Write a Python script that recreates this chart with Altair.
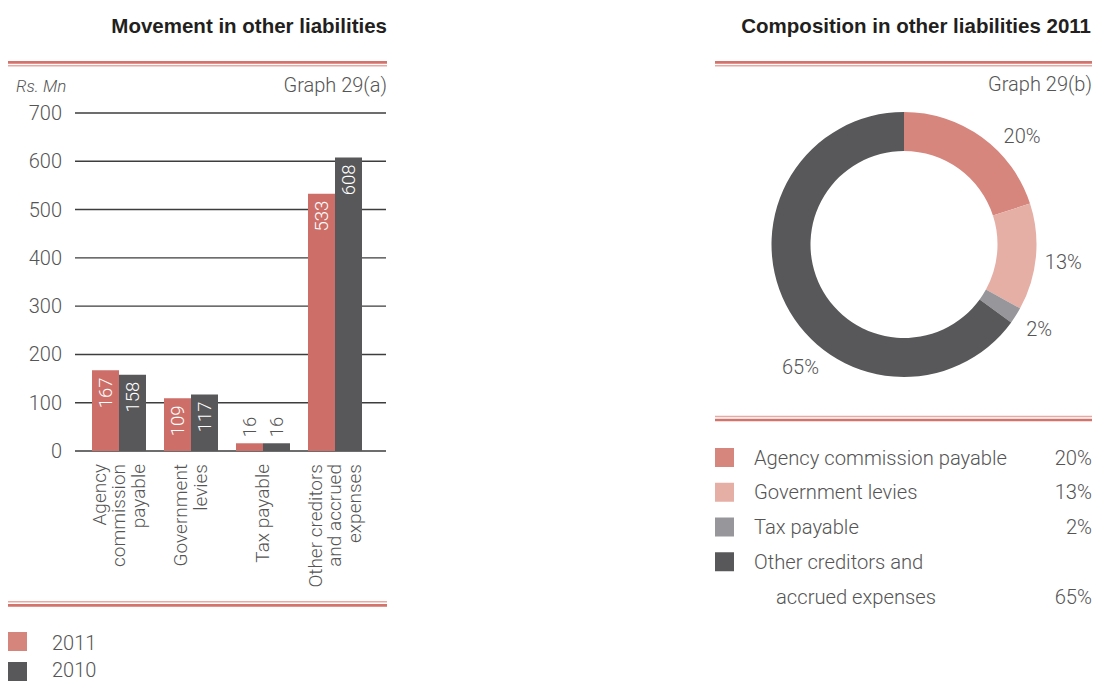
import math
import altair as alt
import pandas as pd

# ---- data -------------------------------------------------------------
categories = [
    "Agency commission payable",
    "Government levies",
    "Tax payable",
    "Other creditors and accrued expenses",
]
axis_lines = [
    "Agency|commission|payable",
    "Government|levies",
    "Tax payable",
    "Other creditors|and accrued|expenses",
]
years = ["2011", "2010"]
values_2011 = [167, 109, 16, 533]
values_2010 = [158, 117, 16, 608]
y_ticks = [0, 100, 200, 300, 400, 500, 600, 700]

pie_labels = categories
pie_share = [20, 13, 2, 65]
legend_text = [
    ["Agency commission payable"],
    ["Government levies"],
    ["Tax payable"],
    ["Other creditors and", "accrued expenses"],
]

# ---- styling ----------------------------------------------------------
FONT = "Roboto"
FW = 300
TITLE_FONT = "Liberation Sans"
TXT = "#555555"
DARK = "#231f20"
BAR_COLORS = ["#cd6f68", "#58585a"]
KEY_COLORS = ["#d6857c", "#58585a"]
PIE_COLORS = ["#d6867c", "#e5afa6", "#97979b", "#58585a"]
RULE_DARK = "#d3736b"
RULE_LIGHT = "#e9a8a1"

W, H = 1094, 683
CX, CY = 904, 244.5          # donut centre
R_OUT, R_IN, R_LBL = 132.5, 93.5, 160
# nudges for the percentage labels around the ring
NUDGE = [(24, 22), (0, 3), (0, 0), (39, 51)]
LINE_H = 19.5

bars_df = pd.DataFrame({
    "category": categories * 2,
    "year": [years[0]] * 4 + [years[1]] * 4,
    "value": values_2011 + values_2010,
})
axis_df = pd.DataFrame({"category": categories, "lines": axis_lines})
ticks_df = pd.DataFrame({"tick": y_ticks})
pie_df = pd.DataFrame({"label": pie_labels, "pct": pie_share, "idx": list(range(len(pie_labels)))})
one = pd.DataFrame({"k": [0]})

xscale = alt.Scale(domain=categories, range=[74, 380], paddingInner=0.25, paddingOuter=0.25)
yscale = alt.Scale(domain=[0, 700], range=[451, 113], nice=False, zero=True)
theta_scale = alt.Scale(domain=[0, 100], range=[0, 2 * math.pi])

X = alt.X("category:N", scale=xscale, axis=None)
XOFF = alt.XOffset("year:N", scale=alt.Scale(domain=years, paddingInner=0, paddingOuter=0))
Y = alt.Y("value:Q", scale=yscale, axis=None)


def text_at(text, x, y, size=20, align="left", weight=FW, style="normal", color=TXT, font=FONT):
    return alt.Chart(pd.DataFrame({"t": [text]})).mark_text(
        align=align, baseline="alphabetic", font=font, fontSize=size,
        fontWeight=weight, fontStyle=style, color=color,
    ).encode(x=alt.value(x), y=alt.value(y), text="t:N")


def double_rule(x1, x2, y_dark, y_light):
    dark = alt.Chart(one).mark_rule(color=RULE_DARK, strokeWidth=2.7).encode(
        x=alt.value(x1), x2=alt.value(x2), y=alt.value(y_dark))
    light = alt.Chart(one).mark_rule(color=RULE_LIGHT, strokeWidth=1.4).encode(
        x=alt.value(x1), x2=alt.value(x2), y=alt.value(y_light))
    return [dark, light]


def swatch(color, x, y, size=19):
    return alt.Chart(one).mark_rect(color=color).encode(
        x=alt.value(x), x2=alt.value(x + size), y=alt.value(y), y2=alt.value(y + size))


layers = []

# ---- left: bar chart ----------------------------------------------------
layers.append(text_at("Movement in other liabilities", 387, 33, size=20.5, align="right",
                      weight="bold", color=DARK, font=TITLE_FONT))
layers += double_rule(8, 387, 62.3, 65.8)
layers.append(text_at("Rs. Mn", 16, 92, size=17, style="italic"))
layers.append(text_at("Graph 29(a)", 387, 92, align="right"))

grid = alt.Chart(ticks_df).mark_rule(color="#3d3d3d", strokeWidth=1.4).encode(
    y=alt.Y("tick:Q", scale=yscale, axis=None), x=alt.value(75), x2=alt.value(386))
ylab = alt.Chart(ticks_df).mark_text(
    align="right", baseline="alphabetic", dy=7, font=FONT, fontWeight=FW, fontSize=20, color=TXT
).encode(y=alt.Y("tick:Q", scale=yscale, axis=None), x=alt.value(62), text="tick:Q")
layers += [grid, ylab]

bars = alt.Chart(bars_df).mark_bar().encode(
    x=X, xOffset=XOFF, y=Y,
    color=alt.Color("year:N", scale=alt.Scale(domain=years, range=BAR_COLORS), legend=None),
)
inside = alt.Chart(bars_df).transform_filter("datum.value >= 50").mark_text(
    angle=270, align="right", baseline="middle", dx=-7, font=FONT, fontWeight=FW,
    fontSize=18.5, color="white"
).encode(x=X, xOffset=XOFF, y=Y, text="value:Q")
outside = alt.Chart(bars_df).transform_filter("datum.value < 50").mark_text(
    angle=270, align="left", baseline="middle", dx=6, font=FONT, fontWeight=FW,
    fontSize=18.5, color=TXT
).encode(x=X, xOffset=XOFF, y=Y, text="value:Q")
layers += [bars, inside, outside]

# category labels, each block of lines centred on its group
for n in (1, 2, 3):
    layers.append(
        alt.Chart(axis_df)
        .transform_calculate(n="length(split(datum.lines, '|'))")
        .transform_filter(f"datum.n == {n}")
        .mark_text(angle=270, align="right", baseline="middle", lineBreak="|",
                   lineHeight=LINE_H, dy=-(n - 1) * LINE_H / 2,
                   font=FONT, fontWeight=FW, fontSize=19, color=TXT)
        .encode(x=X, y=alt.value(464), text="lines:N")
    )

layers += double_rule(8, 387, 605.3, 601.8)
key_tops = [632, 662]
key_baselines = [650, 677]
for yr, col, top, base in zip(years, KEY_COLORS, key_tops, key_baselines):
    layers.append(swatch(col, 8, top))
    layers.append(text_at(yr, 52, base))

# ---- right: donut -------------------------------------------------------
layers.append(text_at("Composition in other liabilities 2011", 1091, 33, size=20.5,
                      align="right", weight="bold", color=DARK, font=TITLE_FONT))
layers += double_rule(715, 1092, 62.3, 65.8)
layers.append(text_at("Graph 29(b)", 1092, 91, align="right"))

donut = alt.Chart(pie_df).mark_arc(radius=R_OUT, radius2=R_IN).encode(
    theta=alt.Theta("pct:Q", stack=True, scale=theta_scale),
    fill=alt.Fill("label:N", scale=alt.Scale(domain=pie_labels, range=PIE_COLORS), legend=None),
    order=alt.Order("idx:Q"),
    x=alt.value(CX), y=alt.value(CY),
)
layers.append(donut)

for lab, (ndx, ndy) in zip(pie_labels, NUDGE):
    layers.append(
        alt.Chart(pie_df)
        .transform_window(cum="sum(pct)", sort=[alt.SortField("idx")], frame=[None, 0])
        .transform_calculate(mid="datum.cum - datum.pct / 2", txt="datum.pct + '%'")
        .transform_filter(alt.datum.label == lab)
        .mark_text(radius=R_LBL, dx=ndx, dy=ndy, align="center", baseline="middle",
                   font=FONT, fontWeight=FW, fontSize=20, color=TXT)
        .encode(theta=alt.Theta("mid:Q", stack=None, scale=theta_scale),
                x=alt.value(CX), y=alt.value(CY), text="txt:N")
    )

layers += double_rule(715, 1092, 420, 416.5)
row = 34.75
for i, lines in enumerate(legend_text):
    yc = 457.5 + row * i
    layers.append(swatch(PIE_COLORS[i], 715, yc - 9.5))
    for j, line in enumerate(lines):
        layers.append(text_at(line, 754 if j == 0 else 776, yc + row * j + 7, size=20.2))
    layers.append(text_at(f"{pie_share[i]}%", 1092, yc + row * (len(lines) - 1) + 7,
                          align="right", size=20.2))

chart = alt.layer(*layers).properties(
    width=W, height=H, padding=0,
    autosize=alt.AutoSizeParams(type="none"),
    background="white",
).configure_view(stroke=None)

chart.save("out.html", embed_options={"renderer": "svg", "actions": False})
